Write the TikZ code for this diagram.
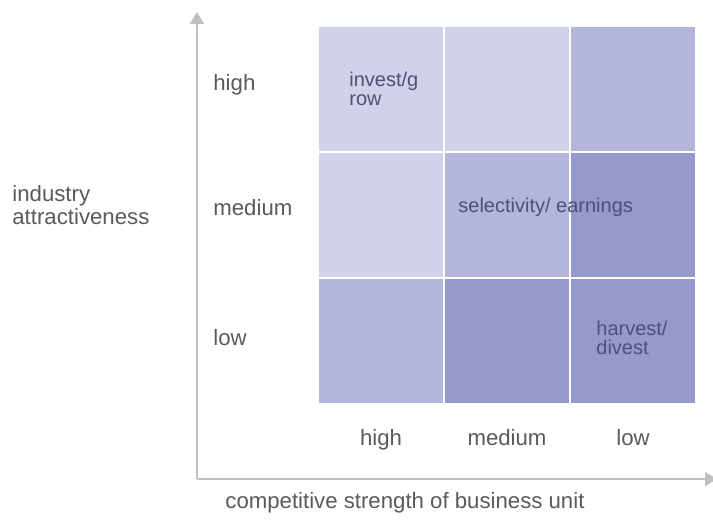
\documentclass[tikz,border=0pt]{standalone}
\usepackage{fontspec}
\setmainfont{Liberation Sans}
\usetikzlibrary{positioning,arrows.meta}

\definecolor{cellA}{RGB}{207,210,232}
\definecolor{cellB}{RGB}{179,182,218}
\definecolor{cellC}{RGB}{150,153,204}
\definecolor{axisgray}{RGB}{192,192,192}
\definecolor{labelgray}{RGB}{90,90,90}
\definecolor{celltext}{RGB}{78,80,120}

\tikzset{
	cell/.style={inner sep=0pt,minimum width=62pt,minimum height=62pt},
	lbl/.style={text=labelgray,font=\fontsize{11.1}{11.5}\selectfont,inner sep=0pt},
	note/.style={text=celltext,font=\fontsize{10}{9.2}\selectfont,inner sep=0pt,align=left}
}

\begin{document}
\begin{tikzpicture}[x=0.5pt,y=-0.5pt]
\useasboundingbox (0,0) rectangle (713,520);

% cells, row r from the top, column k from the left
\foreach \r/\k/\col in {1/1/cellA,1/2/cellA,1/3/cellB,2/1/cellA,2/2/cellB,2/3/cellC,3/1/cellB,3/2/cellC,3/3/cellC}
	\node[cell,fill=\col](c\r\k) at (255+126*\k,-37+126*\r){};

% axes
\coordinate(o) at (197,479);
\coordinate(ytop) at (197,12);
\coordinate(xend) at (717,479);
\draw[axisgray,line width=1pt,-{Triangle[width=7pt,length=6pt]}](o)--(ytop);
\draw[axisgray,line width=1pt,-{Triangle[width=7pt,length=6pt]}](o)--(xend);

% row labels
\foreach \n/\y/\t in {yhigh/90/high,ymed/215/medium,ylow/345/low}
	\node[lbl,anchor=base west](\n) at (213,\y){\t};

% column labels
\foreach \n/\k/\t in {xhigh/1/high,xmed/2/medium,xlow/3/low}
	\node[lbl,anchor=base](\n) at (255+126*\k,445){\t};

\node[lbl,anchor=north west,align=left](yaxis) at (12,185){industry\\attractiveness};
\node[lbl,anchor=base west](xaxis) at (225,508){competitive strength of business unit};

% strategies
\node[note,anchor=north west](grow) at (349,72){invest/g\\row};
\node[note,anchor=base west](earn) at (458,212){selectivity/ earnings};
\node[note,anchor=north west](harvest) at (596,321){harvest/\\divest};
\end{tikzpicture}
\end{document}
